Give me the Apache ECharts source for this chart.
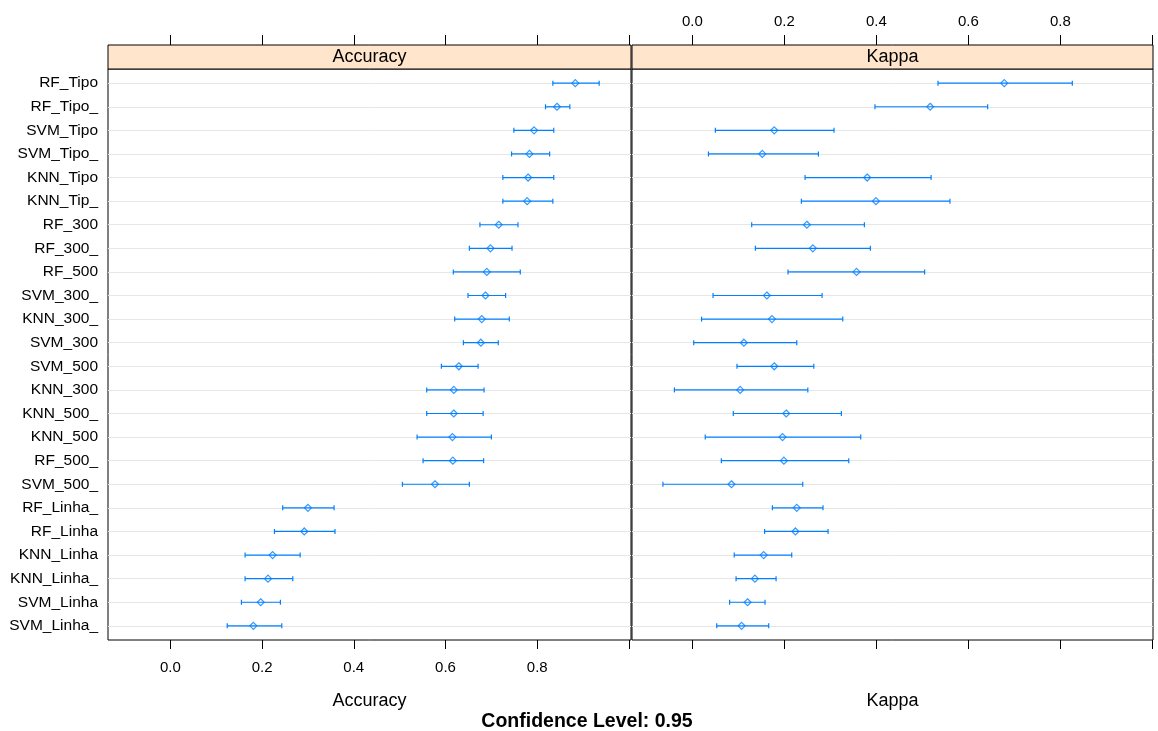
<!DOCTYPE html>
<html><head><meta charset="utf-8">
<script src="https://cdn.jsdelivr.net/npm/echarts@6/dist/echarts.min.js"></script>
<style>html,body{margin:0;padding:0;background:#fff}#c{width:1158px;height:731px}</style>
</head><body><div id="c"></div>
<script>
// ---- data (top row first) ----
const categories = ['RF_Tipo','RF_Tipo_','SVM_Tipo','SVM_Tipo_','KNN_Tipo','KNN_Tip_','RF_300','RF_300_','RF_500','SVM_300_','KNN_300_','SVM_300','SVM_500','KNN_300','KNN_500_','KNN_500','RF_500_','SVM_500_','RF_Linha_','RF_Linha','KNN_Linha','KNN_Linha_','SVM_Linha','SVM_Linha_'];
const accMean  = [0.883,0.843,0.793,0.783,0.780,0.778,0.716,0.698,0.690,0.687,0.679,0.677,0.629,0.618,0.618,0.615,0.616,0.577,0.300,0.292,0.223,0.213,0.197,0.181];
const accLower = [0.834,0.818,0.749,0.744,0.725,0.725,0.675,0.652,0.617,0.649,0.620,0.639,0.591,0.559,0.559,0.538,0.551,0.506,0.245,0.227,0.163,0.163,0.155,0.124];
const accUpper = [0.935,0.871,0.836,0.827,0.836,0.834,0.758,0.745,0.763,0.731,0.739,0.715,0.671,0.684,0.682,0.700,0.683,0.652,0.357,0.359,0.283,0.267,0.240,0.243];
const kapMean  = [0.678,0.517,0.178,0.152,0.380,0.399,0.249,0.262,0.357,0.162,0.173,0.112,0.178,0.104,0.204,0.196,0.199,0.085,0.227,0.224,0.155,0.136,0.120,0.107];
const kapLower = [0.534,0.397,0.050,0.035,0.245,0.237,0.129,0.137,0.208,0.045,0.020,0.003,0.097,-0.039,0.089,0.028,0.063,-0.064,0.174,0.157,0.091,0.095,0.081,0.053];
const kapUpper = [0.826,0.642,0.308,0.274,0.519,0.560,0.374,0.387,0.505,0.282,0.327,0.227,0.264,0.251,0.324,0.366,0.340,0.240,0.284,0.295,0.216,0.182,0.158,0.166];
const tickValues = [0, 0.2, 0.4, 0.6, 0.8, 1.0];
const tickLabels = [0, 0.2, 0.4, 0.6, 0.8];
const panelNames = ['Accuracy', 'Kappa'];
const footText = 'Confidence Level: 0.95';

const FONT = "'Liberation Sans', Arial, sans-serif";
const BLUE = '#0080ff';
const rows = categories.map((c, i) => i + 1);

function barData(lo, hi) { return lo.map((l, i) => [l, hi[i], i + 1]); }
function ptData(m) { return m.map((v, i) => [v, i + 1]); }

function renderBar(params, api) {
  const y = api.value(2);
  const a = api.coord([api.value(0), y]);
  const b = api.coord([api.value(1), y]);
  const cap = 2.5;
  const style = { stroke: BLUE, lineWidth: 1.2, fill: null };
  return { type: 'group', children: [
    { type: 'line', shape: { x1: a[0], y1: a[1], x2: b[0], y2: b[1] }, style },
    { type: 'line', shape: { x1: a[0], y1: a[1] - cap, x2: a[0], y2: a[1] + cap }, style },
    { type: 'line', shape: { x1: b[0], y1: b[1] - cap, x2: b[0], y2: b[1] + cap }, style }
  ]};
}

const P = [
  { left: 108, width: 523, min: -0.1359, max: 1.0044 },
  { left: 632, width: 521, min: -0.1312, max: 1.0014 }
];
const TOP = 69, HEIGHT = 571;

function xAx(gi, pos, withLabels, name) {
  const ax = {
    type: 'value', gridIndex: gi, position: pos, min: P[gi].min, max: P[gi].max,
    offset: pos === 'top' ? 24 : 0,
    axisLine: { show: false },
    axisTick: { show: true, inside: false, length: pos === 'top' ? 10 : 9, customValues: tickValues,
                lineStyle: { color: '#000', width: 1 } },
    axisLabel: { show: withLabels, customValues: tickLabels, formatter: v => v.toFixed(1),
                 fontFamily: FONT, fontSize: 15, color: '#000', margin: pos === 'top' ? 16 : 20 },
    splitLine: { show: false }
  };
  if (name) {
    ax.name = name; ax.nameLocation = 'middle'; ax.nameGap = 52;
    ax.nameTextStyle = { fontFamily: FONT, fontSize: 18, color: '#000' };
  }
  return ax;
}
function yAx(gi, withLabels) {
  return {
    type: 'value', gridIndex: gi, inverse: true, min: 0.4, max: 24.6,
    axisLine: { show: false },
    axisTick: { show: false, customValues: rows },
    axisLabel: { show: withLabels, customValues: rows, formatter: v => categories[Math.round(v) - 1] || '',
                 fontFamily: FONT, fontSize: 15.5, color: '#000', margin: 10 },
    splitLine: { show: true, lineStyle: { color: '#e6e6e6', width: 1 } }
  };
}

const graphics = [];
P.forEach((p, i) => {
  graphics.push({ type: 'rect', shape: { x: p.left, y: 45, width: p.width, height: 24 },
    style: { fill: '#FFE5CC', stroke: '#000', lineWidth: 1 }, z: 10 });
  graphics.push({ type: 'text', x: p.left + p.width / 2, y: 57,
    style: { text: panelNames[i], fontFamily: FONT, fontSize: 18, fill: '#000', align: 'center', verticalAlign: 'middle' }, z: 11 });
});
graphics.push({ type: 'text', x: 587, y: 722,
  style: { text: footText, fontFamily: FONT, fontSize: 19.5, fontWeight: 'bold', fill: '#000', align: 'center', verticalAlign: 'middle' } });

const option = {
  animation: false,
  backgroundColor: '#fff',
  grid: P.map(p => ({ left: p.left, top: TOP, width: p.width, height: HEIGHT, show: true,
    borderColor: '#000', borderWidth: 1, backgroundColor: 'transparent', containLabel: false })),
  xAxis: [ xAx(0, 'bottom', true, panelNames[0]), xAx(0, 'top', false), xAx(1, 'top', true), xAx(1, 'bottom', false, panelNames[1]) ],
  yAxis: [ yAx(0, true), yAx(1, false) ],
  graphic: graphics,
  series: [
    { type: 'custom', xAxisIndex: 0, yAxisIndex: 0, renderItem: renderBar, data: barData(accLower, accUpper), encode: { x: [0, 1], y: 2 } },
    { type: 'scatter', xAxisIndex: 0, yAxisIndex: 0, data: ptData(accMean), symbol: 'diamond', symbolSize: 7,
      itemStyle: { color: 'rgba(0,0,0,0)', borderColor: BLUE, borderWidth: 1.2 } },
    { type: 'custom', xAxisIndex: 3, yAxisIndex: 1, renderItem: renderBar, data: barData(kapLower, kapUpper), encode: { x: [0, 1], y: 2 } },
    { type: 'scatter', xAxisIndex: 3, yAxisIndex: 1, data: ptData(kapMean), symbol: 'diamond', symbolSize: 7,
      itemStyle: { color: 'rgba(0,0,0,0)', borderColor: BLUE, borderWidth: 1.2 } }
  ]
};
echarts.init(document.getElementById('c')).setOption(option);
</script></body></html>
